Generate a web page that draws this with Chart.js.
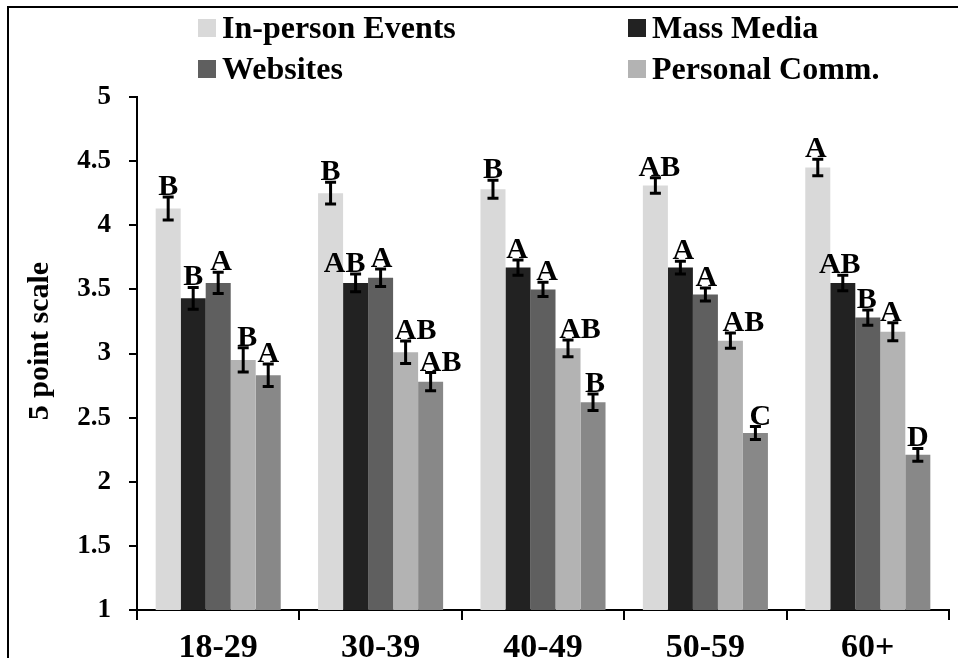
<!DOCTYPE html>
<html>
<head>
<meta charset="utf-8">
<script src="https://cdn.jsdelivr.net/npm/chart.js@4.4.1/dist/chart.umd.min.js"></script>
<style>
  html, body { margin: 0; padding: 0; background: #fff; overflow: hidden; }
  canvas { display: block; }
</style>
</head>
<body>
<canvas id="chart" width="958" height="658"></canvas>
<script>
// Age groups on the category axis
const ageGroups = ['18-29', '30-39', '40-49', '50-59', '60+'];

// Mean ratings on a 5 point scale
const inPersonEvents = [4.13, 4.25, 4.28, 4.31, 4.45];
const massMedia      = [3.43, 3.55, 3.67, 3.67, 3.55];
const websites       = [3.55, 3.59, 3.50, 3.46, 3.28];
const personalComm   = [2.95, 3.01, 3.04, 3.10, 3.17];
const fifthSource    = [2.83, 2.78, 2.62, 2.38, 2.21];

// Standard errors (half length of each error bar)
const errInPerson = [0.090, 0.085, 0.070, 0.060, 0.065];
const errMass     = [0.085, 0.069, 0.060, 0.050, 0.060];
const errWeb      = [0.083, 0.068, 0.055, 0.050, 0.060];
const errPersonal = [0.094, 0.088, 0.065, 0.060, 0.070];
const errFifth    = [0.088, 0.071, 0.065, 0.050, 0.050];

// Significance letters above each bar
const lettersInPerson = ['B', 'B', 'B', 'AB', 'A'];
const lettersMass     = ['B', 'AB', 'A', 'A', 'AB'];
const lettersWeb      = ['A', 'A', 'A', 'A', 'B'];
const lettersPersonal = ['B', 'AB', 'AB', 'AB', 'A'];
const lettersFifth    = ['A', 'AB', 'B', 'C', 'D'];

// Y axis tick values and title
const yTickValues = [1, 1.5, 2, 2.5, 3, 3.5, 4, 4.5, 5];
const yTitle = '5 point scale';

const seriesNames = ['In-person Events', 'Mass Media', 'Websites', 'Personal Comm.', ''];
const seriesValues = [inPersonEvents, massMedia, websites, personalComm, fifthSource];
const seriesErrors = [errInPerson, errMass, errWeb, errPersonal, errFifth];
const seriesLetters = [lettersInPerson, lettersMass, lettersWeb, lettersPersonal, lettersFifth];

// Styling
const FONT = '"Liberation Serif", "Times New Roman", serif';
const barColors = ['#d9d9d9', '#222222', '#5f5f5f', '#b3b3b3', '#888888'];
// small horizontal nudges (px) for letter labels, per series then per group
const letterShift = [
  [0, 0, 0, 4, -2],
  [0, -11, -1, 3, -3],
  [3, 1, 4, 1, -1],
  [4, 10, 12, 13, -2],
  [0, 10, 2, 5, 0]
];

// White page with a frame along the top and left edges
const framePlugin = {
  id: 'frame',
  beforeDraw(chart) {
    const ctx = chart.ctx;
    ctx.save();
    ctx.fillStyle = '#ffffff';
    ctx.fillRect(0, 0, chart.width, chart.height);
    ctx.strokeStyle = '#000';
    ctx.lineWidth = 2;
    ctx.beginPath();
    ctx.moveTo(8, chart.height);
    ctx.lineTo(8, 7);
    ctx.lineTo(chart.width, 7);
    ctx.stroke();
    ctx.restore();
  }
};

// Error bars and significance letters
const errorBarPlugin = {
  id: 'errorBars',
  afterDatasetsDraw(chart) {
    const ctx = chart.ctx;
    const y = chart.scales.y;
    ctx.save();
    chart.data.datasets.forEach((ds, i) => {
      const meta = chart.getDatasetMeta(i);
      meta.data.forEach((bar, j) => {
        const v = ds.data[j];
        const e = seriesErrors[i][j];
        const yTop = y.getPixelForValue(v + e);
        const yBot = y.getPixelForValue(v - e);
        const x = bar.x;
        ctx.strokeStyle = '#000';
        ctx.lineWidth = 3;
        ctx.beginPath();
        ctx.moveTo(x, yTop);
        ctx.lineTo(x, yBot);
        ctx.moveTo(x - 5.5, yTop);
        ctx.lineTo(x + 5.5, yTop);
        ctx.moveTo(x - 5.5, yBot);
        ctx.lineTo(x + 5.5, yBot);
        ctx.stroke();
        ctx.fillStyle = '#000';
        ctx.font = 'bold 30px ' + FONT;
        ctx.textAlign = 'center';
        ctx.textBaseline = 'alphabetic';
        ctx.fillText(seriesLetters[i][j], x + letterShift[i][j], yTop - 2);
      });
    });
    ctx.restore();
  }
};

// Two-by-two legend for the named series, plus the rotated y axis title
const legendPlugin = {
  id: 'gridLegend',
  afterDraw(chart) {
    const ctx = chart.ctx;
    const cols = [198, 628];
    const rows = [19, 60];
    ctx.save();
    ctx.font = 'bold 32px ' + FONT;
    ctx.textBaseline = 'alphabetic';
    ctx.textAlign = 'left';
    chart.data.datasets.forEach((ds, i) => {
      if (!ds.label) return;
      const cx = cols[i % 2];
      const cy = rows[Math.floor(i / 2)];
      ctx.fillStyle = ds.backgroundColor;
      ctx.fillRect(cx, cy, 18, 18);
      ctx.fillStyle = '#000';
      ctx.fillText(ds.label, cx + 24, cy + 19);
    });
    ctx.translate(40, 341);
    ctx.rotate(-Math.PI / 2);
    ctx.font = 'bold 30px ' + FONT;
    ctx.textAlign = 'center';
    ctx.textBaseline = 'middle';
    ctx.fillText(yTitle, 0, 0);
    ctx.restore();
  }
};

new Chart(document.getElementById('chart'), {
  type: 'bar',
  data: {
    labels: ageGroups,
    datasets: seriesValues.map((vals, i) => ({
      label: seriesNames[i],
      data: vals,
      backgroundColor: barColors[i],
      borderWidth: 0,
      categoryPercentage: 0.77,
      barPercentage: 1.0
    }))
  },
  options: {
    responsive: false,
    animation: false,
    devicePixelRatio: 1,
    layout: { padding: { top: 97, right: 9, left: 0, bottom: 0 } },
    plugins: {
      legend: { display: false },
      tooltip: { enabled: false }
    },
    scales: {
      x: {
        grid: {
          display: true,
          drawOnChartArea: false,
          drawTicks: true,
          tickLength: 10,
          color: '#000',
          lineWidth: 2,
          offset: true
        },
        border: { color: '#000', width: 2 },
        ticks: {
          color: '#000',
          padding: 8,
          font: { family: FONT, size: 34, weight: 'bold' }
        },
        afterFit(scale) { scale.height = 48; }
      },
      y: {
        min: 1,
        max: 5,
        afterBuildTicks(scale) {
          scale.ticks = yTickValues.map(v => ({ value: v }));
        },
        grid: {
          display: true,
          drawOnChartArea: false,
          drawTicks: true,
          tickLength: 8,
          color: '#000',
          lineWidth: 2
        },
        border: { color: '#000', width: 2 },
        ticks: {
          color: '#000',
          padding: 18,
          font: { family: FONT, size: 27, weight: 'bold' },
          callback: (value) => String(value)
        },
        afterFit(scale) { scale.width = 137; }
      }
    }
  },
  plugins: [framePlugin, errorBarPlugin, legendPlugin]
});
</script>
</body>
</html>
